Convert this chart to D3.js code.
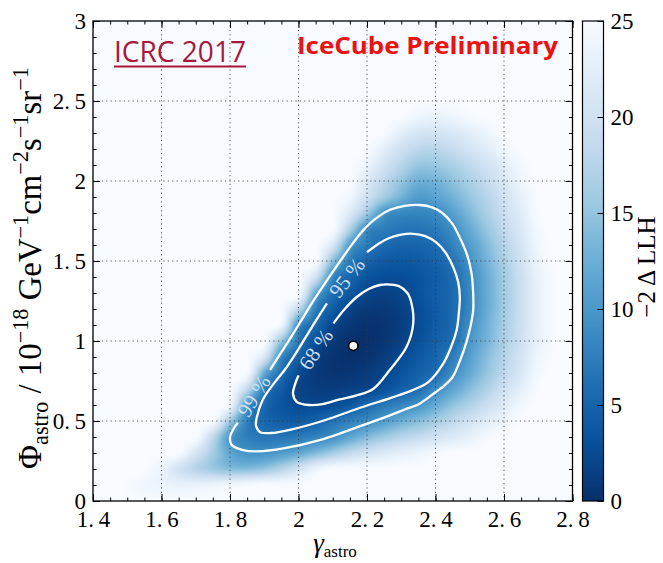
<!DOCTYPE html>
<html>
<head>
<meta charset="utf-8">
<script src="https://cdn.jsdelivr.net/npm/d3@7/dist/d3.min.js"></script>
<style>
html,body{margin:0;padding:0;background:#ffffff;}
svg{display:block;}
</style>
</head>
<body>
<svg id="chart" width="663" height="563"></svg>
<script>
// ---------------- data ----------------
const gammaGrid = [1.40,1.45,1.50,1.55,1.60,1.65,1.70,1.75,1.80,1.85,1.90,1.95,2.00,2.05,2.10,2.15,2.20,2.25,2.30,2.35,2.40,2.45,2.50,2.55,2.60,2.65,2.70,2.75,2.80];
const phiGrid = [0.0,0.1,0.2,0.3,0.4,0.5,0.6,0.7,0.8,0.9,1.0,1.1,1.2,1.3,1.4,1.5,1.6,1.7,1.8,1.9,2.0,2.1,2.2,2.3,2.4,2.5,2.6,2.7,2.8,2.9,3.0];
// -2 Delta LLH, one row per phi value, one column per gamma value (saturates at 25)
const llhRows = [
[25,25,25,25,25,25,25,25,25,25,25,25,25,25,25,25,25,25,25,25,25,25,25,25,25,25,25,25,25],
[25,25,24.8,24,23.5,23.2,23.2,23.5,24,24.5,25,25,25,25,25,25,25,25,25,25,25,25,25,25,25,25,25,25,25],
[25,25,25,25,23.5,20.5,17.8,15.8,14.4,14.1,15.2,17.3,20.2,23.5,25,25,25,25,25,25,25,25,25,25,25,25,25,25,25],
[25,25,25,25,25,25,20.9,16.3,11.8,9.7,9.6,10.4,11.8,13.8,16.2,18.5,20.2,21.6,22.6,23.5,24.5,25,25,25,25,25,25,25,25],
[25,25,25,25,25,25,25,18.6,10.2,7.6,6.7,6.7,7.1,8.0,9.2,11.5,13.8,15.8,17.5,18.8,20.2,21.6,23,24.5,25,25,25,25,25],
[25,25,25,25,25,25,25,25,15.9,7.8,5.35,4.4,4.3,5.0,6.4,7.7,8.85,10.5,12.4,14.1,16.1,18.2,20.3,22.2,23.7,25,25,25,25],
[25,25,25,25,25,25,25,25,24,10.1,5.5,3.6,2.55,2.3,2.75,3.8,5.5,6.9,8.15,9.6,12.2,14.8,17,19.4,21.9,24.3,25,25,25],
[25,25,25,25,25,25,25,25,25,18.5,7.55,4.3,2.05,1.35,1.25,1.5,2.05,3.2,4.6,6.0,8.7,11.4,14.2,17,19.9,22.7,25,25,25],
[25,25,25,25,25,25,25,25,25,25,12.2,6.15,2.8,1.14,0.53,0.6,1.12,2.08,3.4,4.7,6.0,8.9,12,15.1,18.2,21.3,24.4,25,25],
[25,25,25,25,25,25,25,25,25,25,21,8.55,4.8,1.65,0.47,0.08,0.35,1.15,2.46,3.8,5.2,7.5,10.9,14.2,17.4,20.6,23.9,25,25],
[25,25,25,25,25,25,25,25,25,25,25,15.1,7.05,3.15,1.05,0.17,0.07,0.58,1.67,3.14,4.6,6.1,9.8,13.2,16.6,20,23.3,25,25],
[25,25,25,25,25,25,25,25,25,25,25,24,9.2,5.5,2.22,0.8,0.27,0.52,1.37,2.75,4.2,5.6,9.2,12.7,16.3,19.7,23.3,25,25],
[25,25,25,25,25,25,25,25,25,25,25,25,18.1,7.6,4.35,1.88,0.99,0.9,1.54,2.82,4.2,5.55,8.45,12.2,15.9,19.6,23.3,25,25],
[25,25,25,25,25,25,25,25,25,25,25,25,25,11.9,6.15,4.05,2.17,1.73,2.14,3.25,4.4,5.55,8.5,12.2,15.9,19.5,23.3,25,25],
[25,25,25,25,25,25,25,25,25,25,25,25,25,20,8.5,5.26,3.61,2.84,2.85,3.35,4.32,5.74,8.7,12.3,16,19.7,23.3,25,25],
[25,25,25,25,25,25,25,25,25,25,25,25,25,25,14.4,7.6,5.24,4.14,3.82,4.14,4.98,6.6,9.55,13.1,16.6,20.2,23.8,25,25],
[25,25,25,25,25,25,25,25,25,25,25,25,25,25,21.2,10.5,7.4,5.66,5.09,5.16,5.87,7.9,10.6,13.9,17.4,20.7,24.2,25,25],
[25,25,25,25,25,25,25,25,25,25,25,25,25,25,25,17,9.0,7.5,6.67,6.51,7.27,9.06,12.1,15.3,18.4,21.5,24.5,25,25],
[25,25,25,25,25,25,25,25,25,25,25,25,25,25,25,21.6,15.7,9.8,8.5,8.24,8.73,10.9,13.8,16.6,19.4,22.2,25,25,25],
[25,25,25,25,25,25,25,25,25,25,25,25,25,25,25,24,19.9,16.1,13,10.5,11.2,13,15.2,17.6,20.1,22.9,25,25,25],
[25,25,25,25,25,25,25,25,25,25,25,25,25,25,25,25,21.7,18.2,15.2,12.8,13.1,14.7,16.7,18.9,21.3,23.9,25,25,25],
[25,25,25,25,25,25,25,25,25,25,25,25,25,25,25,25,23.6,20.4,17.6,15.3,15.4,16.7,18.4,20.3,22.3,24.5,25,25,25],
[25,25,25,25,25,25,25,25,25,25,25,25,25,25,25,25,25,22.5,20,18,17.8,19,20.5,22.2,24,25,25,25,25],
[25,25,25,25,25,25,25,25,25,25,25,25,25,25,25,25,25,25,22.4,20.8,20.4,21.3,22.4,23.7,25,25,25,25,25],
[25,25,25,25,25,25,25,25,25,25,25,25,25,25,25,25,25,25,25,23.8,23.3,23.7,24.6,25,25,25,25,25,25],
[25,25,25,25,25,25,25,25,25,25,25,25,25,25,25,25,25,25,25,25,25,25,25,25,25,25,25,25,25],
[25,25,25,25,25,25,25,25,25,25,25,25,25,25,25,25,25,25,25,25,25,25,25,25,25,25,25,25,25],
[25,25,25,25,25,25,25,25,25,25,25,25,25,25,25,25,25,25,25,25,25,25,25,25,25,25,25,25,25],
[25,25,25,25,25,25,25,25,25,25,25,25,25,25,25,25,25,25,25,25,25,25,25,25,25,25,25,25,25],
[25,25,25,25,25,25,25,25,25,25,25,25,25,25,25,25,25,25,25,25,25,25,25,25,25,25,25,25,25],
[25,25,25,25,25,25,25,25,25,25,25,25,25,25,25,25,25,25,25,25,25,25,25,25,25,25,25,25,25]
];
const bestFit = [2.16, 0.97];
// contour lines [gamma, phi], open between the two ends of the label gap
const contour68 = [[2.102,1.11],[2.135,1.20],[2.17,1.275],[2.205,1.325],[2.238,1.35],[2.27,1.352],[2.296,1.34],[2.318,1.30],[2.33,1.235],[2.335,1.11],[2.316,0.965],[2.267,0.82],[2.218,0.70],[2.17,0.66],[2.12,0.635],[2.07,0.605],[2.03,0.60],[1.995,0.62],[1.984,0.67],[1.99,0.73],[2.0,0.785]];
const contour95 = [[2.2,1.555],[2.235,1.61],[2.267,1.645],[2.30,1.665],[2.335,1.67],[2.37,1.655],[2.403,1.615],[2.43,1.55],[2.452,1.46],[2.466,1.37],[2.471,1.277],[2.468,1.17],[2.462,1.07],[2.445,0.96],[2.423,0.86],[2.38,0.745],[2.33,0.69],[2.27,0.645],[2.17,0.575],[2.07,0.50],[1.975,0.445],[1.92,0.425],[1.888,0.43],[1.876,0.47],[1.878,0.52],[1.895,0.63],[1.93,0.74],[1.96,0.82],[2.0,0.95],[2.04,1.09],[2.083,1.235]];
const contour99 = [[1.917,0.82],[1.95,0.93],[1.98,1.03],[2.01,1.135],[2.04,1.24],[2.085,1.385],[2.13,1.525],[2.16,1.615],[2.188,1.69],[2.225,1.765],[2.267,1.82],[2.31,1.845],[2.355,1.85],[2.39,1.835],[2.42,1.80],[2.45,1.73],[2.47,1.65],[2.492,1.54],[2.505,1.425],[2.51,1.30],[2.51,1.19],[2.502,1.09],[2.49,0.99],[2.472,0.88],[2.45,0.775],[2.425,0.72],[2.40,0.68],[2.355,0.61],[2.31,0.572],[2.267,0.535],[2.17,0.46],[2.07,0.385],[1.96,0.33],[1.879,0.31],[1.835,0.32],[1.805,0.35],[1.80,0.40],[1.81,0.45],[1.823,0.49]];
const contourLabels = ["68 %","95 %","99 %"];
const xTickValues = [1.4,1.6,1.8,2.0,2.2,2.4,2.6,2.8];
const yTickValues = [0,0.5,1,1.5,2,2.5,3];
const cbarTickValues = [0,5,10,15,20,25];
const bluesPalette = ["#f7fbff","#deebf7","#c6dbef","#9ecae1","#6baed6","#4292c6","#2171b5","#08519c","#08306b"];

// ---------------- drawing ----------------
const svg = d3.select("#chart");
const L = 93, R = 572.5, T = 21, B = 501;
const x = d3.scaleLinear().domain([1.4, 2.8]).range([L, R]);
const y = d3.scaleLinear().domain([0, 3]).range([B, T]);
const cb = d3.scaleLinear().domain([0, 25]).range([B, T]);
const vmax = 25;
const color = d3.scaleLinear()
  .domain(bluesPalette.map((_, i) => i * vmax / (bluesPalette.length - 1)))
  .range(bluesPalette.slice().reverse())
  .clamp(true);

svg.append("rect").attr("width", 663).attr("height", 563).attr("fill", "#ffffff");

// heat map (bicubic interpolation of the grid, like imshow)
const nG = gammaGrid.length, nP = phiGrid.length;
const dG = gammaGrid[1] - gammaGrid[0], dP = phiGrid[1] - phiGrid[0];
function at(j, i) {
  j = Math.max(0, Math.min(nP - 1, j));
  i = Math.max(0, Math.min(nG - 1, i));
  return llhRows[j][i];
}
function cr(p0, p1, p2, p3, t) {
  return p1 + 0.5 * t * (p2 - p0 + t * (2 * p0 - 5 * p1 + 4 * p2 - p3 + t * (3 * (p1 - p2) + p3 - p0)));
}
function sample(g, p) {
  const fx = (g - gammaGrid[0]) / dG, fy = (p - phiGrid[0]) / dP;
  const i = Math.floor(fx), j = Math.floor(fy);
  const tx = fx - i, ty = fy - j;
  const r = [];
  for (let k = -1; k <= 2; k++) r.push(cr(at(j + k, i - 1), at(j + k, i), at(j + k, i + 1), at(j + k, i + 2), tx));
  return cr(r[0], r[1], r[2], r[3], ty);
}
const lut = d3.range(1001).map(k => d3.rgb(color(k * vmax / 1000)));
const pw = Math.round(R - L), ph = Math.round(B - T);
const canvas = document.createElement("canvas");
canvas.width = pw; canvas.height = ph;
const ctx = canvas.getContext("2d");
const img = ctx.createImageData(pw, ph);
for (let py = 0; py < ph; py++) {
  const p = y.invert(T + (py + 0.5) * (B - T) / ph);
  for (let px = 0; px < pw; px++) {
    const g = x.invert(L + (px + 0.5) * (R - L) / pw);
    let v = sample(g, p);
    v = Math.max(0, Math.min(vmax, v));
    const c = lut[Math.round(v / vmax * 1000)];
    const o = (py * pw + px) * 4;
    img.data[o] = c.r; img.data[o + 1] = c.g; img.data[o + 2] = c.b; img.data[o + 3] = 255;
  }
}
ctx.putImageData(img, 0, 0);
svg.append("image")
  .attr("x", L).attr("y", T).attr("width", R - L).attr("height", B - T)
  .attr("preserveAspectRatio", "none")
  .attr("href", canvas.toDataURL());

// grid
const grid = svg.append("g").attr("stroke", "#3a3a3a").attr("stroke-width", 1).attr("stroke-dasharray", "1.2,3.2").attr("opacity", 0.85);
grid.selectAll(".gx").data(xTickValues.slice(1, -1)).join("line")
  .attr("x1", d => x(d)).attr("x2", d => x(d)).attr("y1", T).attr("y2", B);
grid.selectAll(".gy").data(yTickValues.slice(1, -1)).join("line")
  .attr("y1", d => y(d)).attr("y2", d => y(d)).attr("x1", L).attr("x2", R);

// contours
const line = d3.line().x(d => x(d[0])).y(d => y(d[1])).curve(d3.curveCatmullRom.alpha(0.5));
const contours = [contour68, contour95, contour99];
svg.append("g").selectAll("path").data(contours).join("path")
  .attr("d", line).attr("fill", "none").attr("stroke", "#ffffff").attr("stroke-width", 2.3);

const serif = "'Liberation Serif', 'DejaVu Serif', serif";
// contour labels placed in the gaps
contours.forEach((c, k) => {
  const a = c[c.length - 1], b = c[0];
  const ax = x(a[0]), ay = y(a[1]), bx = x(b[0]), by = y(b[1]);
  const mx = (ax + bx) / 2, my = (ay + by) / 2;
  const ang = Math.atan2(by - ay, bx - ax) * 180 / Math.PI;
  svg.append("text")
    .attr("transform", `translate(${mx},${my}) rotate(${ang})`)
    .attr("text-anchor", "middle").attr("dominant-baseline", "central")
    .attr("font-family", serif)
    .attr("font-size", 21).attr("fill", "#cfe0f1")
    .text(contourLabels[k]);
});

// best fit
svg.append("circle").attr("cx", x(bestFit[0])).attr("cy", y(bestFit[1])).attr("r", 4.6)
  .attr("fill", "#ffffff").attr("stroke", "#000000").attr("stroke-width", 1.5);

// axes
const fmt = d => Number.isInteger(d) ? String(d) : d.toFixed(1).replace(".", ".\u2009");
function styleAxis(g) {
  g.attr("font-family", serif);
  g.select(".domain").remove();
  g.selectAll("line").attr("stroke", "#000").attr("stroke-width", 1);
  g.selectAll("text").attr("font-family", serif).attr("font-size", 23).attr("fill", "#000");
}
svg.append("g").attr("transform", `translate(0,${B})`)
  .call(d3.axisBottom(x).tickValues(xTickValues).tickSize(-7).tickSizeOuter(0).tickPadding(10).tickFormat(fmt)).call(styleAxis);
svg.append("g").attr("transform", `translate(0,${B})`)
  .call(d3.axisBottom(x).ticks(28).tickSize(-3.5).tickSizeOuter(0).tickFormat("")).call(styleAxis);
svg.append("g").attr("transform", `translate(0,${T})`)
  .call(d3.axisTop(x).tickValues(xTickValues).tickSize(-7).tickSizeOuter(0).tickFormat("")).call(styleAxis);
svg.append("g").attr("transform", `translate(0,${T})`)
  .call(d3.axisTop(x).ticks(28).tickSize(-3.5).tickSizeOuter(0).tickFormat("")).call(styleAxis);
svg.append("g").attr("transform", `translate(${L},0)`)
  .call(d3.axisLeft(y).tickValues(yTickValues).tickSize(-7).tickSizeOuter(0).tickPadding(7).tickFormat(fmt)).call(styleAxis);
svg.append("g").attr("transform", `translate(${L},0)`)
  .call(d3.axisLeft(y).ticks(30).tickSize(-3.5).tickSizeOuter(0).tickFormat("")).call(styleAxis);
svg.append("g").attr("transform", `translate(${R},0)`)
  .call(d3.axisRight(y).tickValues(yTickValues).tickSize(-7).tickSizeOuter(0).tickFormat("")).call(styleAxis);
svg.append("g").attr("transform", `translate(${R},0)`)
  .call(d3.axisRight(y).ticks(30).tickSize(-3.5).tickSizeOuter(0).tickFormat("")).call(styleAxis);

svg.append("rect").attr("x", L).attr("y", T).attr("width", R - L).attr("height", B - T)
  .attr("fill", "none").attr("stroke", "#000").attr("stroke-width", 1.3);

// colour bar
const CBL = 582.5, CBR = 603.5;
const defs = svg.append("defs");
const grad = defs.append("linearGradient").attr("id", "cbgrad").attr("x1", 0).attr("y1", 1).attr("x2", 0).attr("y2", 0);
d3.range(0, 1.0001, 0.02).forEach(t => grad.append("stop").attr("offset", t).attr("stop-color", color(t * vmax)));
svg.append("rect").attr("x", CBL).attr("y", T).attr("width", CBR - CBL).attr("height", B - T).attr("fill", "url(#cbgrad)");
svg.append("g").attr("transform", `translate(${CBR},0)`)
  .call(d3.axisRight(cb).tickValues(cbarTickValues).tickSize(-6).tickSizeOuter(0).tickPadding(7)).call(styleAxis);
svg.append("rect").attr("x", CBL).attr("y", T).attr("width", CBR - CBL).attr("height", B - T)
  .attr("fill", "none").attr("stroke", "#000").attr("stroke-width", 1.2);

// axis labels
const xl = svg.append("text").attr("x", 335).attr("y", 552).attr("text-anchor", "middle").attr("font-family", serif).attr("fill", "#000");
xl.append("tspan").attr("font-size", 27).attr("font-style", "italic").text("γ");
xl.append("tspan").attr("font-size", 17).attr("dy", 5).text("astro");

const yl = svg.append("text").attr("text-anchor", "middle").attr("font-family", serif).attr("fill", "#000");
const yparts = [["Φ", 25, 0], ["astro", 17, 5], [" / 10", 25, -5], ["−18", 17, -10], [" GeV", 25, 10], ["−1", 17, -10], ["cm", 25, 10], ["−2", 17, -10], ["s", 25, 10], ["−1", 17, -10], ["sr", 25, 10], ["−1", 17, -10]];
yparts.forEach(p => yl.append("tspan").attr("font-size", p[1]).attr("dy", p[2]).text(p[0]));
const ylen = yl.node().getComputedTextLength();
const ys = 402 / ylen;
yl.attr("transform", `translate(41,268) rotate(-90) scale(${ys})`);

svg.append("text").attr("transform", "translate(655,267) rotate(-90)").attr("text-anchor", "middle")
  .attr("font-family", serif).attr("font-size", 25).attr("fill", "#000").text("−2\u2009Δ\u2009LLH");

// annotations
svg.append("text").attr("x", 114).attr("y", 62).attr("font-family", "'Open Sans', 'Liberation Sans', sans-serif")
  .attr("font-size", 29).attr("fill", "#a6193c").attr("textLength", 132).attr("lengthAdjust", "spacingAndGlyphs").text("ICRC 2017");
svg.append("line").attr("x1", 114).attr("x2", 246).attr("y1", 66.5).attr("y2", 66.5).attr("stroke", "#a6193c").attr("stroke-width", 2);
svg.append("text").attr("x", 297).attr("y", 53.5).attr("font-family", "'Open Sans', 'Liberation Sans', sans-serif")
  .attr("font-weight", 700).attr("font-size", 24).attr("fill", "#ee1111").attr("textLength", 261).attr("lengthAdjust", "spacingAndGlyphs").text("IceCube Preliminary");
</script>
</body>
</html>
